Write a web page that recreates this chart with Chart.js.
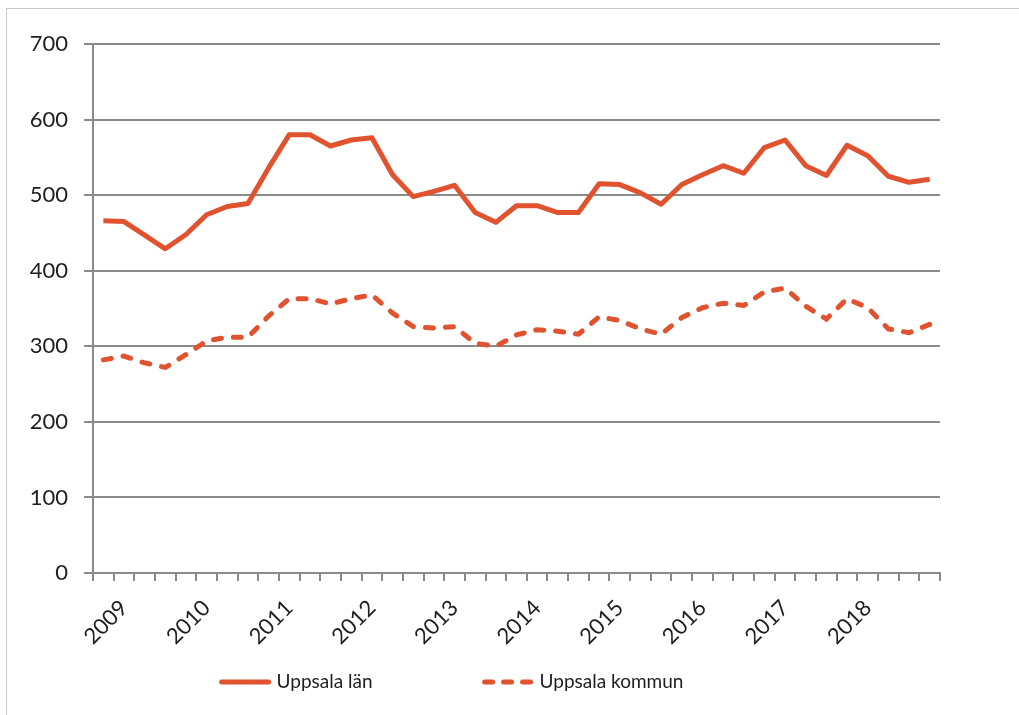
<!DOCTYPE html>
<html>
<head>
<meta charset="utf-8">
<script src="https://cdn.jsdelivr.net/npm/chart.js@4"></script>
<style>
  html, body { margin: 0; padding: 0; background: #fff; overflow: hidden; }
  #frame { position: absolute; left: 6px; top: 8px; width: 1100px; height: 800px; border: 1px solid #c8c8c8; }
  #c { position: absolute; left: 0; top: 0; }
</style>
</head>
<body>
<div id="frame"></div>
<canvas id="c" width="1019" height="715"></canvas>
<script>
// quarters, 2008 K4 .. 2018 K4
const years = ['2009', '2010', '2011', '2012', '2013', '2014', '2015', '2016', '2017', '2018'];
const quarters = ['2008 K4'];
years.forEach(y => { ['K1', 'K2', 'K3', 'K4'].forEach(q => quarters.push(y + ' ' + q)); });

const uppsalaLan = [466, 465, 447, 429, 448, 474, 485, 489, 536, 580, 580, 565, 573, 576, 527, 498, 505, 513, 477, 464,
  486, 486, 477, 477, 515, 514, 503, 488, 514, 527, 539, 529, 563, 573, 539, 526, 566, 552, 525, 517, 521];
const uppsalaKommun = [282, 287, 278, 272, 289, 307, 312, 312, 340, 363, 363, 356, 363, 368, 344, 326, 324, 326, 304, 300,
  315, 322, 320, 316, 339, 334, 323, 316, 338, 351, 357, 354, 372, 377, 353, 336, 363, 351, 323, 318, 329];

const seriesNames = ['Uppsala län', 'Uppsala kommun'];
const red = '#e1522f';
const axisGrey = '#8a8a8a';
const textCol = '#1e1e1e';
const font = 'Lato, "Open Sans", sans-serif';

// legend drawn by hand so the line samples look like the original
const bottomLegend = {
  id: 'bottomLegend',
  afterDraw(chart) {
    const ctx = chart.ctx;
    ctx.save();
    ctx.font = '19px ' + font;
    ctx.textBaseline = 'middle';
    const lineLen = 53, textGap = 5, itemGap = 109;
    const widths = chart.data.datasets.map(d => ctx.measureText(d.label).width);
    const total = widths.reduce((a, w) => a + lineLen + textGap + w, 0) + itemGap;
    let x = 451 - total / 2;
    const y = 682;
    chart.data.datasets.forEach((d, i) => {
      ctx.strokeStyle = d.borderColor;
      ctx.lineWidth = d.borderWidth;
      ctx.lineCap = 'round';
      ctx.setLineDash(d.borderDash ? [8, 11] : []);
      ctx.beginPath();
      ctx.moveTo(x + 3, y);
      ctx.lineTo(x + lineLen - 3, y);
      ctx.stroke();
      ctx.setLineDash([]);
      ctx.fillStyle = textCol;
      ctx.fillText(d.label, x + lineLen + textGap, y);
      x += lineLen + textGap + widths[i] + itemGap;
    });
    ctx.restore();
  }
};

new Chart(document.getElementById('c').getContext('2d'), {
  type: 'line',
  data: {
    labels: quarters,
    datasets: [
      { label: seriesNames[0], data: uppsalaLan, borderColor: red, borderWidth: 5, borderJoinStyle: 'round',
        pointRadius: 0, tension: 0 },
      { label: seriesNames[1], data: uppsalaKommun, borderColor: red, borderWidth: 5, borderDash: [8, 12],
        borderCapStyle: 'round', pointRadius: 0, tension: 0 }
    ]
  },
  options: {
    responsive: false,
    animation: false,
    layout: { padding: { left: 0, right: 79, top: 44, bottom: 67 } },
    plugins: { legend: { display: false }, tooltip: { enabled: false } },
    scales: {
      x: {
        offset: true,
        afterFit: s => { s.height = 75; },
        grid: { offset: true, drawOnChartArea: false, drawTicks: true, tickLength: 8, color: axisGrey, lineWidth: 2 },
        border: { color: axisGrey, width: 2 },
        ticks: {
          autoSkip: false, maxRotation: 45, minRotation: 45, padding: 14,
          color: textCol, font: { family: font, size: 22 },
          callback: function (v) { const l = this.getLabelForValue(v); return l.endsWith('K1') ? l.slice(0, 4) : ''; }
        }
      },
      y: {
        min: 0, max: 700,
        afterFit: s => { s.width = 93; },
        grid: { color: axisGrey, lineWidth: 2, tickLength: 9, drawTicks: true },
        border: { color: axisGrey, width: 2 },
        ticks: { stepSize: 100, padding: 16, color: textCol, font: { family: font, size: 22 } }
      }
    }
  },
  plugins: [bottomLegend]
});
</script>
</body>
</html>
